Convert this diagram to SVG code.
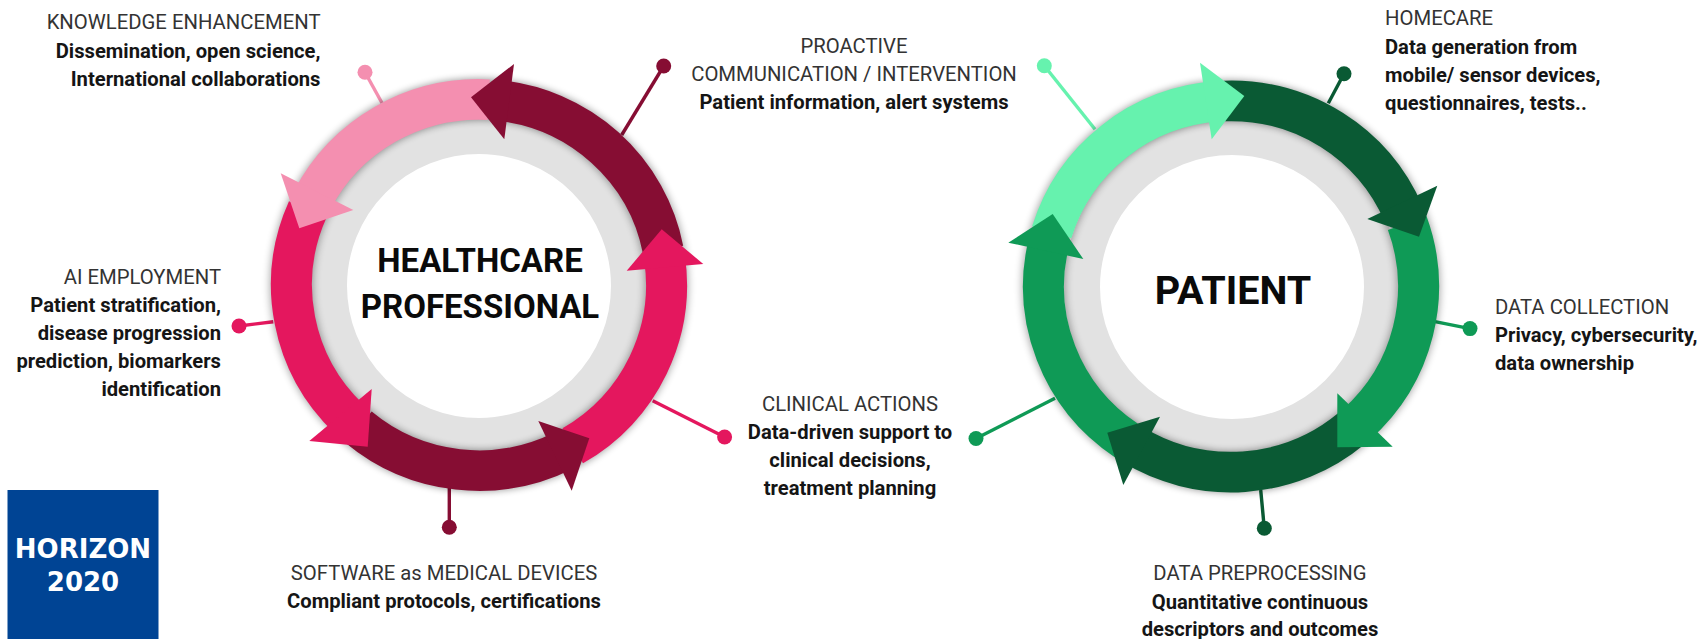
<svg xmlns="http://www.w3.org/2000/svg" width="1706" height="639" viewBox="0 0 1706 639">
<style>
text{font-family:Roboto,"Liberation Sans",sans-serif}
.r{font-size:20.3px;fill:#333}
.b{font-size:20.2px;font-weight:700;fill:#151515}
.e{text-anchor:end}.m{text-anchor:middle}
.t{font-weight:700;fill:#0a0a0a;text-anchor:middle}
.band{fill:none;stroke-width:41}
.gray{fill:#fff;stroke:#e2e2e2;stroke-width:36}
.sh{fill:none;stroke:#000;stroke-width:42;opacity:.38}
.ln{fill:none;stroke-width:3.4}
.mar{stroke:#860d33}.marf{fill:#860d33}
.pnk{stroke:#f48fb0}.pnkf{fill:#f48fb0}
.red{stroke:#e4175e}.redf{fill:#e4175e}
.dg{stroke:#0a5a34}.dgf{fill:#0a5a34}
.gr{stroke:#0f9a56}.grf{fill:#0f9a56}
.lg{stroke:#66f2ae}.lgf{fill:#66f2ae}
</style>
<defs><filter id="soft" x="-20%" y="-20%" width="140%" height="140%"><feGaussianBlur stdDeviation="4"/></filter></defs>
<rect width="1706" height="639" fill="#fff"/>
<g id="connectors">
<line class="ln pnk" x1="365" y1="72.3" x2="382" y2="103"/><circle class="pnkf" cx="365" cy="72.3" r="7.5"/>
<line class="ln mar" x1="663.7" y1="66" x2="621.7" y2="135"/><circle class="marf" cx="663.7" cy="66" r="7.5"/>
<line class="ln red" x1="239" y1="326" x2="273.3" y2="321.7"/><circle class="redf" cx="239" cy="326" r="7.5"/>
<line class="ln red" x1="724.6" y1="437" x2="652.7" y2="400.7"/><circle class="redf" cx="724.6" cy="437" r="7.5"/>
<line class="ln mar" x1="449.3" y1="527.3" x2="449.3" y2="488"/><circle class="marf" cx="449.3" cy="527.3" r="7.5"/>
<line class="ln lg" x1="1044.3" y1="65.7" x2="1095" y2="129.3"/><circle class="lgf" cx="1044.3" cy="65.7" r="7.5"/>
<line class="ln dg" x1="1344" y1="73.7" x2="1328.3" y2="103.3"/><circle class="dgf" cx="1344" cy="73.7" r="7.5"/>
<line class="ln gr" x1="1470" y1="328.6" x2="1435" y2="321.7"/><circle class="grf" cx="1470" cy="328.6" r="7.5"/>
<line class="ln gr" x1="976" y1="438.5" x2="1055" y2="398.3"/><circle class="grf" cx="976" cy="438.5" r="7.5"/>
<line class="ln dg" x1="1264.3" y1="528.3" x2="1260.7" y2="490"/><circle class="dgf" cx="1264.3" cy="528.3" r="7.5"/>
</g>
<g id="healthcare-professional">
<circle class="gray" cx="479" cy="286" r="150"/>
<g transform="translate(0 285) scale(1 .99) translate(0 -285.5)">
<circle class="sh" cx="479" cy="285.5" r="187.5" filter="url(#soft)"/>
<path class="band mar" d="M663.05 249.7A187.5 187.5 0 0 0 497 98.9"/>
<path class="band pnk" d="M488.8 98.3A187.5 187.5 0 0 0 311.9 200.4"/>
<path class="band red" d="M307.7 209.2A187.5 187.5 0 0 0 348.7 420.4"/>
<path class="band mar" d="M358.5 429.1A187.5 187.5 0 0 0 564.1 452.6"/>
<path class="band red" d="M572.75 447.9A187.5 187.5 0 0 0 664.2 256.2"/>
</g>
<polygon class="marf" points="514,64 504.3,139.3 471,97.3"/>
<polygon class="pnkf" points="280.7,173.3 353.3,210 299.3,228.3"/>
<polygon class="redf" points="371.7,389 309.3,441 367.7,446.7"/>
<polygon class="marf" points="538.3,421 571.7,490.7 589.3,438.3"/>
<polygon class="redf" points="626.7,270.7 703.3,264 661.7,229.3"/>
<text class="t" font-size="33" x="480" y="272">HEALTHCARE</text>
<text class="t" font-size="33" x="480" y="318">PROFESSIONAL</text>
</g>
<g id="patient">
<circle class="gray" cx="1232" cy="287" r="150"/>
<g transform="translate(0 286.5) scale(1 .99) translate(0 -286.5)">
<circle class="sh" cx="1231" cy="286.5" r="187.5" filter="url(#soft)"/>
<path class="band lg" d="M1051.7 231.7A187.5 187.5 0 0 1 1217.9 99.5"/>
<path class="band dg" d="M1224.5 99.1A187.5 187.5 0 0 1 1403.6 213.2"/>
<path class="band gr" d="M1407.2 222.4A187.5 187.5 0 0 1 1356.5 425.8"/>
<path class="band dg" d="M1351.5 430.1A187.5 187.5 0 0 1 1131.6 445.5"/>
<path class="band gr" d="M1126.2 441.9A187.5 187.5 0 0 1 1049.1 241.1"/>
</g>
<polygon class="lgf" points="1200,62.7 1211.7,139.3 1244.3,96"/>
<polygon class="dgf" points="1437.3,185.7 1367.3,219 1419,236.7"/>
<polygon class="grf" points="1337.3,393.3 1392.7,446.7 1337.3,447.3"/>
<polygon class="dgf" points="1160,416.7 1123.3,485 1107.3,432.7"/>
<polygon class="grf" points="1008.3,242.7 1083.3,259 1052.7,214"/>
<text class="t" font-size="39.5" x="1233" y="303.5">PATIENT</text>
</g>
<g id="knowledge-enhancement">
<text class="r e" x="320.5" y="29">KNOWLEDGE ENHANCEMENT</text>
<text class="b e" x="320.5" y="58">Dissemination, open science,</text>
<text class="b e" x="320.5" y="86">International collaborations</text>
</g>
<g id="ai-employment">
<text class="r e" x="221" y="284">AI EMPLOYMENT</text>
<text class="b e" x="221" y="312">Patient stratification,</text>
<text class="b e" x="221" y="340">disease progression</text>
<text class="b e" x="221" y="368">prediction, biomarkers</text>
<text class="b e" x="221" y="396">identification</text>
</g>
<g id="proactive">
<text class="r m" x="854" y="53">PROACTIVE</text>
<text class="r m" x="854" y="81">COMMUNICATION / INTERVENTION</text>
<text class="b m" x="854" y="109">Patient information, alert systems</text>
</g>
<g id="clinical-actions">
<text class="r m" x="850" y="411">CLINICAL ACTIONS</text>
<text class="b m" x="850" y="439">Data-driven support to</text>
<text class="b m" x="850" y="467">clinical decisions,</text>
<text class="b m" x="850" y="495">treatment planning</text>
</g>
<g id="software">
<text class="r m" x="444" y="580">SOFTWARE as MEDICAL DEVICES</text>
<text class="b m" x="444" y="608">Compliant protocols, certifications</text>
</g>
<g id="homecare">
<text class="r" x="1385" y="25">HOMECARE</text>
<text class="b" x="1385" y="54">Data generation from</text>
<text class="b" x="1385" y="82">mobile/ sensor devices,</text>
<text class="b" x="1385" y="110">questionnaires, tests..</text>
</g>
<g id="data-collection">
<text class="r" x="1495" y="314">DATA COLLECTION</text>
<text class="b" x="1495" y="342">Privacy, cybersecurity,</text>
<text class="b" x="1495" y="370">data ownership</text>
</g>
<g id="data-preprocessing">
<text class="r m" x="1260" y="580">DATA PREPROCESSING</text>
<text class="b m" x="1260" y="609">Quantitative continuous</text>
<text class="b m" x="1260" y="636">descriptors and outcomes</text>
</g>
<g id="horizon-2020">
<rect x="7.5" y="490" width="151" height="149" fill="#004494"/>
<text x="83" y="558" text-anchor="middle" style="font-family:'DejaVu Sans',sans-serif" font-size="26" font-weight="700" fill="#fff">HORIZON</text>
<text x="83" y="591" text-anchor="middle" style="font-family:'DejaVu Sans',sans-serif" font-size="26" font-weight="700" fill="#fff">2020</text>
</g>
</svg>
